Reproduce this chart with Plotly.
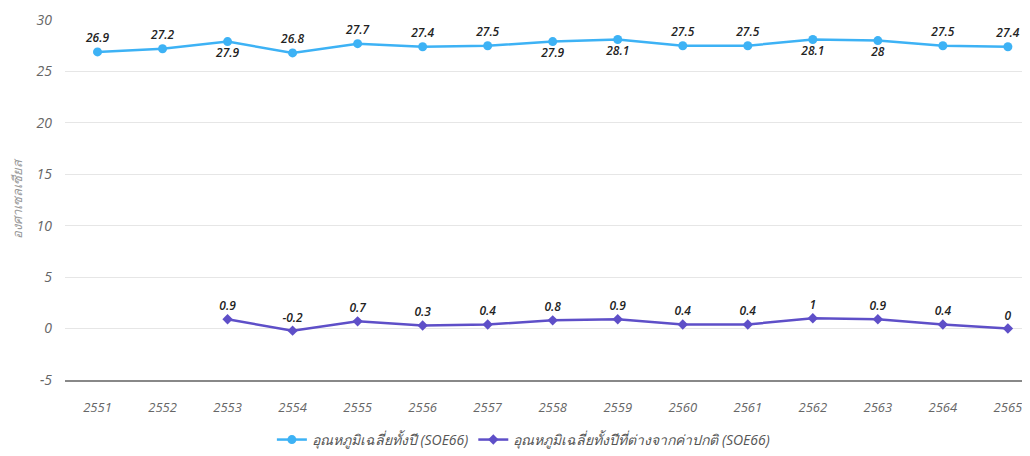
"""Annual mean temperature line chart (SOE66)."""

import plotly.graph_objects as go

years = ["2551", "2552", "2553", "2554", "2555", "2556", "2557", "2558",
         "2559", "2560", "2561", "2562", "2563", "2564", "2565"]
mean_temp = [26.9, 27.2, 27.9, 26.8, 27.7, 27.4, 27.5, 27.9,
             28.1, 27.5, 27.5, 28.1, 28.0, 27.5, 27.4]
anomaly = [None, None, 0.9, -0.2, 0.7, 0.3, 0.4, 0.8,
           0.9, 0.4, 0.4, 1.0, 0.9, 0.4, 0.0]
mean_label_pos = ["top center", "top center", "bottom center", "top center",
                  "top center", "top center", "top center", "bottom center",
                  "bottom center", "top center", "top center", "bottom center",
                  "bottom center", "top center", "top center"]
y_ticks = [-5, 0, 5, 10, 15, 20, 25, 30]

FONT = "Open Sans, Noto Sans, sans-serif"
label_font = dict(family=FONT, size=12, color="#222222", style="italic", weight=600)

fig = go.Figure()
fig.add_trace(go.Scatter(
    x=years, y=mean_temp, name="อุณหภูมิเฉลี่ยทั้งปี (SOE66)",
    mode="lines+markers+text",
    line=dict(color="#3DB2F5", width=2.5),
    marker=dict(symbol="circle", size=9, color="#3DB2F5"),
    text=[f"{v:g}" for v in mean_temp],
    textposition=mean_label_pos,
    textfont=label_font,
    cliponaxis=False,
))
fig.add_trace(go.Scatter(
    x=years, y=anomaly, name="อุณหภูมิเฉลี่ยทั้งปีที่ต่างจากค่าปกติ (SOE66)",
    mode="lines+markers+text",
    line=dict(color="#5E4FC8", width=2.5),
    marker=dict(symbol="diamond", size=8, color="#5E4FC8"),
    text=[None if v is None else f"{v:g}" for v in anomaly],
    textposition="top center",
    textfont=label_font,
    cliponaxis=False,
))

# the page body has an 8px margin, so the figure is sized to fit inside the window
fig.update_layout(
    width=1022, height=448,
    margin=dict(l=57, r=0, t=12, b=76),
    plot_bgcolor="white", paper_bgcolor="white",
    font=dict(family=FONT, color="#666666"),
    showlegend=True,
    legend=dict(orientation="h", x=0.475, xanchor="center", y=-0.211, yanchor="bottom",
                font=dict(size=14, color="#555555", style="italic")),
)
fig.update_xaxes(
    type="category", range=[-0.5, 14.34], automargin=False,
    showgrid=False, showline=True, linecolor="#888888", linewidth=2,
    tickfont=dict(size=13, color="#666666", style="italic"),
    ticklabelstandoff=14,
)
fig.update_yaxes(
    range=[-5, 30], tickvals=y_ticks, ticktext=[str(t) for t in y_ticks],
    automargin=False,
    showgrid=True, gridcolor="#e6e6e6", gridwidth=1, zeroline=False,
    tickfont=dict(size=14, color="#666666", style="italic"),
    ticklabelstandoff=12,
    title=dict(text="องศาเซลเซียส", standoff=14,
               font=dict(size=13, color="#999999", style="italic")),
)

fig.write_html("out.html")
